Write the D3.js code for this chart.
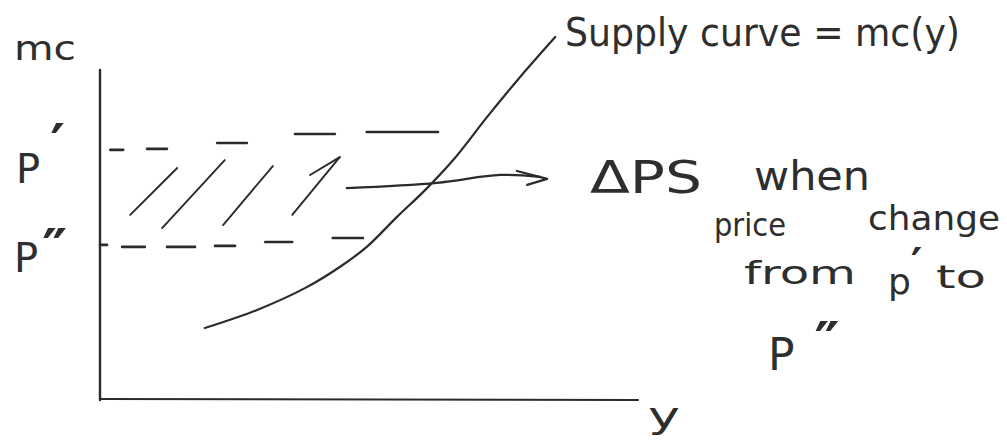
<!DOCTYPE html>
<html>
<head>
<meta charset="utf-8">
<script src="https://cdn.jsdelivr.net/npm/d3@7"></script>
<style>
  html, body { margin: 0; padding: 0; background: #fff; }
  svg { display: block; }
  text { font-family: "DejaVu Sans", "Liberation Sans", sans-serif; fill: #2e2e2e; }
</style>
</head>
<body>
<svg id="chart" width="1007" height="440"></svg>
<script>
// Quantity (y) vs marginal cost, in plot units (0-100 on both axes)
const supplyCurve = [
  [19.4, 21.8], [29.1, 27.3], [38.3, 34.2], [44.4, 40.3],
  [49.4, 46.4], [55.0, 55.5], [60.2, 63.6], [65.4, 72.7],
  [71.7, 85.8], [77.8, 97.9], [84.3, 110.0]
];

// Dashed price lines, each dash as [x start, x end, price level]
const pPrimeDashes = [
  [1.9, 4.3, 75.8], [8.7, 12.4, 76.1], [21.7, 27.2, 77.9],
  [36.1, 43.5, 80.6], [49.4, 62.6, 81.2]
];
const pDoublePrimeDashes = [
  [0.0, 1.3, 47.0], [4.1, 8.3, 46.4], [12.4, 17.6, 46.4],
  [21.3, 25.0, 46.7], [30.6, 35.6, 47.9], [43.1, 48.7, 49.1]
];

// Hatching of the producer-surplus band: [x0, y0, x1, y1]
const hatchStrokes = [
  [5.6, 56.1, 14.3, 70.3],
  [11.5, 52.1, 23.1, 72.7],
  [22.8, 53.0, 32.0, 70.9],
  [35.6, 56.1, 44.4, 73.6],
  [38.9, 68.2, 44.4, 73.6]
];

// Pointer from the band to its note
const pointerShaft = [[45.7, 64.2], [62.4, 65.8], [74.1, 68.2], [81.5, 67.6]];
const pointerHead = [[77.2, 69.4], [82.8, 67.0], [79.1, 65.2]];

const axisLabels = { y: "mc", x: "y" };
const curveLabel = "Supply curve = mc(y)";

const svg = d3.select("#chart");
const ink = "#2b2b2b";

const x = d3.scaleLinear().domain([0, 100]).range([100, 640]);
const y = d3.scaleLinear().domain([0, 100]).range([400, 70]);

const g = svg.append("g")
  .attr("fill", "none")
  .attr("stroke", ink)
  .attr("stroke-linecap", "round")
  .attr("stroke-linejoin", "round");

// Axes
g.append("line")
  .attr("x1", x(0)).attr("y1", y(0))
  .attr("x2", x(0)).attr("y2", y(100))
  .attr("stroke-width", 2.4);
g.append("line")
  .attr("x1", x(0)).attr("y1", y(0) - 1)
  .attr("x2", x(100) - 2).attr("y2", y(0))
  .attr("stroke-width", 2);

// Price levels
g.selectAll("line.pp")
  .data(pPrimeDashes.concat(pDoublePrimeDashes))
  .join("line")
  .attr("class", "pp")
  .attr("x1", d => x(d[0])).attr("x2", d => x(d[1]))
  .attr("y1", d => y(d[2])).attr("y2", d => y(d[2]))
  .attr("stroke-width", 2.6);

// Hatching
g.selectAll("line.hatch")
  .data(hatchStrokes)
  .join("line")
  .attr("class", "hatch")
  .attr("x1", d => x(d[0])).attr("y1", d => y(d[1]))
  .attr("x2", d => x(d[2])).attr("y2", d => y(d[3]))
  .attr("stroke-width", 1.9);

// Supply curve
const smooth = d3.line().x(d => x(d[0])).y(d => y(d[1])).curve(d3.curveCatmullRom.alpha(0.5));
g.append("path")
  .datum(supplyCurve)
  .attr("d", smooth)
  .attr("stroke-width", 2.2);

// Pointer
g.append("path")
  .datum(pointerShaft)
  .attr("d", smooth)
  .attr("stroke-width", 2.2);
g.append("path")
  .datum(pointerHead)
  .attr("d", d3.line().x(d => x(d[0])).y(d => y(d[1])))
  .attr("stroke-width", 2.2);

// Text
function label(txt, px, py, size, len) {
  const t = svg.append("text")
    .attr("x", px).attr("y", py)
    .attr("font-size", size)
    .text(txt);
  if (len) t.attr("textLength", len).attr("lengthAdjust", "spacingAndGlyphs");
  return t;
}

// A letter followed by a raised prime mark, kept in one text element
function primed(letter, marks, px, py, size, markSize, dx, dy) {
  const t = svg.append("text")
    .attr("x", px).attr("y", py)
    .attr("font-size", size);
  t.append("tspan").text(letter);
  t.append("tspan")
    .attr("font-size", markSize)
    .attr("dx", dx).attr("dy", dy)
    .attr("font-weight", "bold")
    .text(marks);
  return t;
}

label(axisLabels.y, 14, 60, 34, 62);
label(axisLabels.x, 648, 428, 36, 32);

// P' and P'' on the price axis
primed("P", "′", 16, 183, 40, 56, 10, -20);
primed("P", "″", 14, 272, 40, 56, 4, -4);

label(curveLabel, 565, 46, 39, 395);

label("ΔPS", 590, 193, 44, 112);
label("when", 754, 190, 40, 116);
label("price", 714, 236, 32, 72);
label("change", 868, 230, 34, 132);
label("from", 744, 284, 32, 112);
primed("p", "′", 888, 294, 36, 44, 0, -14);
label("to", 936, 288, 32, 50);
primed("P", "″", 768, 370, 44, 56, 20, -9);
</script>
</body>
</html>
